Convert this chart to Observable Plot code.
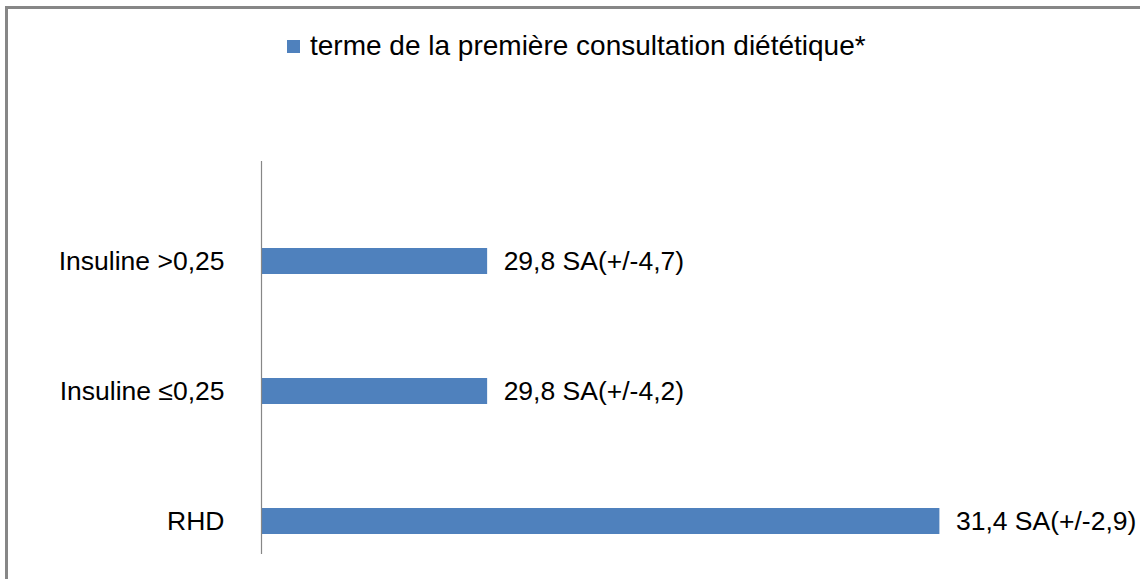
<!DOCTYPE html>
<html>
<head>
<meta charset="utf-8">
<script src="https://cdn.jsdelivr.net/npm/d3@7"></script>
<script src="https://cdn.jsdelivr.net/npm/@observablehq/plot@0.6"></script>
<style>
  html, body { margin: 0; padding: 0; background: #fff; overflow: hidden; width: 1140px; height: 579px; }
  #frame { position: absolute; left: 5px; top: 6px; width: 1200px; height: 700px;
           border-top: 3px solid #878787; border-left: 3px solid #878787; box-sizing: border-box; pointer-events: none; }
  #legend { position: absolute; left: 0; top: 0; width: 1140px; height: 161px;
            font-family: "Liberation Sans", Arial, sans-serif; font-size: 28px; color: #000; }
  #legend .sw { position: absolute; left: 287px; top: 40px; width: 13px; height: 13px; background: #4F81BD; }
  #legend .tx { position: absolute; left: 310px; top: 46px; transform: translateY(-50%); white-space: nowrap; line-height: 1; }
  #chart { position: absolute; left: 0; top: 161px; }
</style>
</head>
<body>
<div id="legend"><div class="sw"></div><div class="tx"></div></div>
<div id="chart"></div>
<div id="frame"></div>
<script>
const seriesName = "terme de la première consultation diététique*";
const categories = ["Insuline >0,25", "Insuline ≤0,25", "RHD"];
const values = [29.8, 29.8, 31.4];
const deviations = [4.7, 4.2, 2.9];
const unit = "SA";

document.querySelector("#legend .tx").textContent = seriesName;

const fmt = v => v.toFixed(1).replace(".", ",");
const data = categories.map((c, i) => ({
  category: c,
  value: values[i],
  label: `${fmt(values[i])} ${unit}(+/-${fmt(deviations[i])})`
}));

const chart = Plot.plot({
  width: 1140,
  height: 418,
  marginLeft: 261,
  marginRight: 31,
  marginTop: 0,
  marginBottom: 25,
  style: { fontFamily: "Liberation Sans, Arial, sans-serif", fontSize: "26px", color: "#000", background: "transparent" },
  x: { domain: [29, 32], axis: null },
  y: { domain: categories, range: [33.75, 425.25], paddingInner: 0.8, paddingOuter: 0.4, label: null },
  marks: [
    Plot.barX(data, { x1: 29, x2: "value", y: "category", fill: "#4F81BD" }),
    Plot.ruleX([29], { stroke: "#878787", strokeWidth: 1.2 }),
    Plot.axisY({ tickSize: 0, tickPadding: 37, fontSize: 26.5, fill: "#000", label: null }),
    Plot.text(data, { x: "value", y: "category", text: "label", textAnchor: "start", dx: 16, fontSize: 26.5, fill: "#000" })
  ]
});
document.getElementById("chart").appendChild(chart);
</script>
</body>
</html>
